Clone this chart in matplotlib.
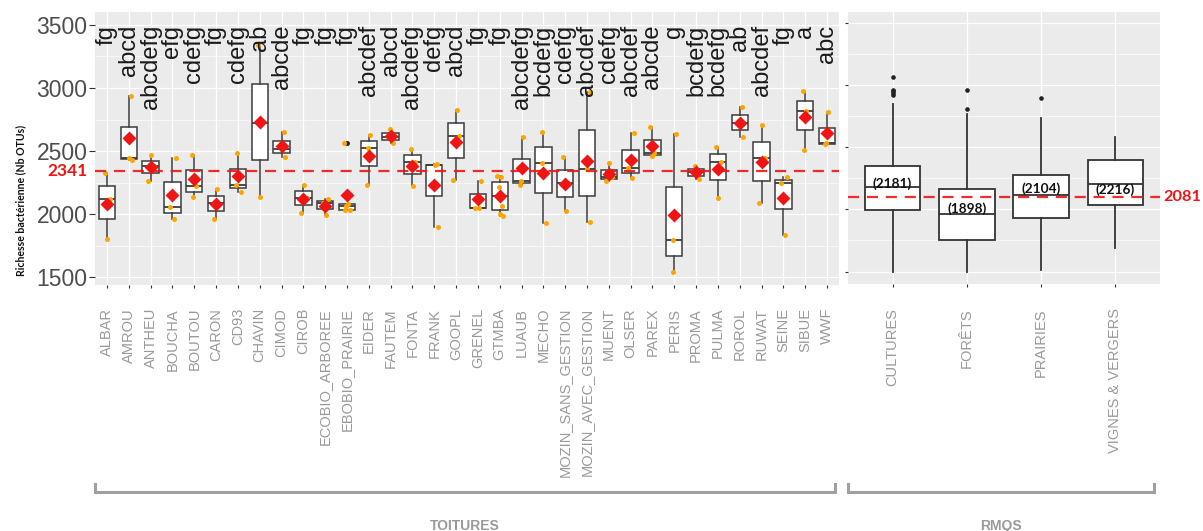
import numpy as np
import matplotlib
matplotlib.use("Agg")
import matplotlib.pyplot as plt
from matplotlib.lines import Line2D
from matplotlib.transforms import blended_transform_factory

# ---------------- data ----------------
sites = ["ALBAR", "AMROU", "ANTHEU", "BOUCHA", "BOUTOU", "CARON", "CD93", "CHAVIN",
         "CIMOD", "CIROB", "ECOBIO_ARBOREE", "EBOBIO_PRAIRIE", "EIDER", "FAUTEM",
         "FONTA", "FRANK", "GOOPL", "GRENEL", "GTMBA", "LUAUB", "MECHO",
         "MOZIN_SANS_GESTION", "MOZIN_AVEC_GESTION", "MUENT", "OLSER", "PAREX",
         "PERIS", "PROMA", "PULMA", "ROROL", "RUWAT", "SEINE", "SIBUE", "WWF"]
letters = ["fg", "abcd", "abcdefg", "efg", "cdefg", "fg", "cdefg", "ab", "abcde", "fg",
           "fg", "fg", "abcdef", "abcd", "abcdefg", "defg", "abcd", "fg", "fg", "abcdefg",
           "bcdefg", "cdefg", "abcdef", "cdefg", "abcdef", "abcde", "g", "bcdefg",
           "bcdefg", "ab", "abcdef", "fg", "a", "abc"]
richness = [
    [2328, 2117, 1802], [2937, 2445, 2430], [2468, 2380, 2264], [2447, 2055, 1958],
    [2471, 2225, 2132], [2198, 2085, 1963], [2487, 2230, 2177], [3341, 2720, 2138],
    [2653, 2513, 2450], [2230, 2129, 2010], [2117, 2085, 1992],
    [2566, 2082, 2060, 2035, 2030], [2627, 2526, 2230], [2672, 2614, 2561],
    [2520, 2410, 2222], [2395, 2390, 1899], [2825, 2619, 2270], [2264, 2050, 2045],
    [2300, 2296, 2215, 2140, 2060, 2000, 1985], [2609, 2264, 2230], [2653, 2407, 1926],
    [2450, 2244, 2024], [2971, 2355, 1939], [2402, 2290, 2265], [2646, 2368, 2283],
    [2688, 2482, 2460], [2632, 1794, 1542], [2383, 2330, 2278], [2535, 2410, 2124],
    [2847, 2720, 2609], [2706, 2442, 2085], [2296, 2250, 1833], [2976, 2820, 2508],
    [2812, 2560, 2552]]
toit_ref = 2341
yticks_left = [1500, 2000, 2500, 3000, 3500]

rmqs_cats = ["CULTURES", "FORÊTS", "PRAIRIES", "VIGNES & VERGERS"]
rmqs_med = [2181, 1898, 2104, 2216]
rmqs_q1 = [1945, 1631, 1861, 1997]
rmqs_q3 = [2406, 2165, 2312, 2469]
rmqs_lo = [1295, 1295, 1316, 1547]
rmqs_hi = [3045, 2941, 2899, 2700]
rmqs_fliers = [[3336, 3200, 3182, 3164, 3147], [2993, 3192], [3108], []]
rmqs_ref = 2081
rmqs_ticks = [1300, 1950, 2600, 3250, 3900]

# ---------------- layout helpers ----------------
W, H = 1203, 531
fig = plt.figure(figsize=(W / 100, H / 100), dpi=100)


def rect(x0, y0, x1, y1):
    return [x0 / W, 1 - y1 / H, (x1 - x0) / W, (y1 - y0) / H]


BG = "#EBEBEB"
TXT_GREY = "#4D4D4D"
LBL_GREY = "#9A9A9A"
RED = "#F01515"
SANS = ["Liberation Sans", "DejaVu Sans"]

axL = fig.add_axes(rect(95, 12, 839, 285))
axR = fig.add_axes(rect(848, 12, 1160, 284))

for ax in (axL, axR):
    ax.set_facecolor(BG)
    for s in ax.spines.values():
        s.set_visible(False)
    ax.set_axisbelow(True)
    ax.grid(which="major", color="white", lw=0.9)
    ax.grid(which="minor", axis="y", color="white", lw=0.45)

# ---------------- left panel ----------------
pos = np.arange(1, len(sites) + 1)
box_kw = dict(color="#3c3c3c", lw=1.1)
axL.boxplot(richness, positions=pos, widths=0.75, patch_artist=True, showcaps=False,
            boxprops=dict(facecolor="white", edgecolor="#3c3c3c", lw=1.1),
            medianprops=dict(color="#3c3c3c", lw=1.3),
            whiskerprops=box_kw,
            flierprops=dict(marker="o", markerfacecolor="#222222", markeredgecolor="#222222",
                            markersize=2.5), zorder=2)
jit = [-0.08, 0.12, 0.02, 0.15, -0.12, 0.06, -0.04]
for i, vals in enumerate(richness):
    xs = [pos[i] + jit[(k + i) % len(jit)] for k in range(len(vals))]
    axL.plot(xs, vals, "o", color="#FFA500", markersize=3.6, zorder=3, mec="none")
    axL.plot(pos[i], np.mean(vals), "D", color=RED, markersize=7, zorder=4, mec="none")
    axL.text(pos[i], 3500, letters[i], rotation=90, ha="center", va="top",
             fontsize=17, color="#1a1a1a", family=SANS, zorder=5)

axL.axhline(toit_ref, color=RED, lw=1.6, ls=(0, (5, 3.5)), zorder=3.5, alpha=0.9)
axL.text(-0.01, toit_ref, str(toit_ref), transform=blended_transform_factory(axL.transAxes, axL.transData),
         ha="right", va="center", color=RED, fontsize=12.5, fontweight="bold", family=["Lato", "DejaVu Sans"])

axL.set_xlim(0.45, len(sites) + 0.55)
axL.set_ylim(1437, 3603)
axL.set_yticks(yticks_left)
axL.set_yticks([1750, 2250, 2750, 3250], minor=True)
axL.set_xticks(pos)
axL.set_xticklabels(sites, rotation=90, color=LBL_GREY, fontsize=10.5, family=SANS)
axL.set_yticklabels([str(v) for v in yticks_left], color=TXT_GREY, fontsize=16.5, family=SANS)
axL.tick_params(axis="x", length=2.5, width=0.8, color="#333333", pad=14)
axL.tick_params(axis="y", which="major", length=4, width=0.8, color="#333333", pad=1.5)
axL.tick_params(axis="y", which="minor", length=0)

# ---------------- right panel ----------------
stats = []
for k in range(len(rmqs_cats)):
    stats.append(dict(med=rmqs_med[k], q1=rmqs_q1[k], q3=rmqs_q3[k],
                      whislo=rmqs_lo[k], whishi=rmqs_hi[k], fliers=rmqs_fliers[k]))
rpos = np.arange(1, len(rmqs_cats) + 1)
axR.bxp(stats, positions=rpos, widths=0.75, patch_artist=True, showcaps=False,
        boxprops=dict(facecolor="white", edgecolor="#333333", lw=1.3),
        medianprops=dict(color="#333333", lw=1.3),
        whiskerprops=dict(color="#333333", lw=1.3),
        flierprops=dict(marker="o", markerfacecolor="#222222", markeredgecolor="#222222",
                        markersize=2.3), zorder=2)
axR.axhline(rmqs_ref, color=RED, lw=1.6, ls=(0, (5, 3.5)), zorder=3.5, alpha=0.9)
label_offsets = [2.5, 4.0, 4.2, -4.3]
for k in range(len(rmqs_cats)):
    axR.annotate(f"({rmqs_med[k]})", (rpos[k], rmqs_med[k]), xytext=(0, label_offsets[k]),
                 textcoords="offset points", ha="center", va="center", fontsize=9.8,
                 fontweight="bold", color="#111111", family=["Lato", "DejaVu Sans"], zorder=5)
axR.text(1.012, rmqs_ref, str(rmqs_ref), transform=blended_transform_factory(axR.transAxes, axR.transData),
         ha="left", va="center", color=RED, fontsize=11.8, fontweight="bold",
         family=["Lato", "DejaVu Sans"], clip_on=False)
axR.set_xlim(0.4, len(rmqs_cats) + 0.6)
axR.set_ylim(1170, 4010)
axR.set_yticks(rmqs_ticks)
axR.set_yticks([(a + b) / 2 for a, b in zip(rmqs_ticks[:-1], rmqs_ticks[1:])], minor=True)
axR.set_yticklabels([])
axR.set_xticks(rpos)
axR.set_xticklabels(rmqs_cats, rotation=90, color=LBL_GREY, fontsize=10.5, family=SANS)
axR.tick_params(axis="x", length=2.5, width=0.8, color="#333333", pad=15)
axR.tick_params(axis="y", which="major", length=2, width=0.8, color="#333333")
axR.tick_params(axis="y", which="minor", length=0)

# ---------------- y label ----------------
fig.text(21 / W, 1 - 200 / H, "Richesse bactérienne (Nb OTUs)", rotation=90, ha="center",
         va="center", fontsize=7.6, fontweight="bold", color="#111111", family=["Lato", "DejaVu Sans"])


# ---------------- group brackets ----------------
def bracket(x0, x1, label):
    xs = [x0 / W, x0 / W, x1 / W, x1 / W]
    ys = [1 - 484 / H, 1 - 492 / H, 1 - 492 / H, 1 - 484 / H]
    fig.add_artist(Line2D(xs, ys, color="#A0A0A0", lw=2.2, solid_joinstyle="miter"))
    fig.text((x0 + x1) / 2 / W, 1 - 519 / H, label, ha="center", va="top", fontsize=10,
             fontweight="bold", color=LBL_GREY, family=SANS)


bracket(95, 835, "TOITURES")
bracket(848, 1154, "RMQS")

fig.savefig("out.png", dpi=100)
